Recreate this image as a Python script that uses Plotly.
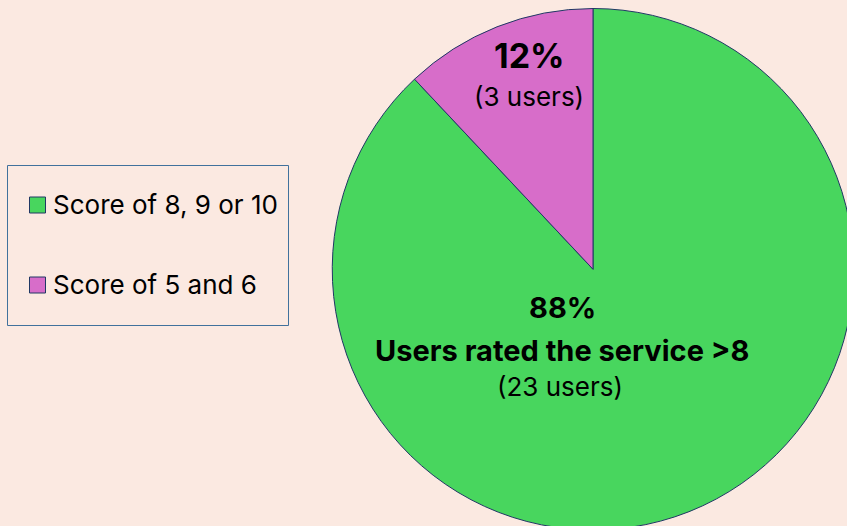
import plotly.graph_objects as go

# ---- data ----
labels = ["Score of 8, 9 or 10", "Score of 5 and 6"]
percent = [88, 12]
users = [23, 3]
colors = ["#48D65E", "#D76DC9"]
slice_captions = ["Users rated the service >8", ""]

W, H = 854, 530
BG = "#FBE9E1"
EDGE = "#203864"
FONT = "Inter, Liberation Sans, Arial, sans-serif"


def px(x):
    return x / W


def py(y):
    return 1 - y / H


fig = go.Figure()
fig.add_trace(go.Pie(
    labels=labels,
    values=percent,
    customdata=users,
    sort=False,
    direction="clockwise",
    rotation=0,
    marker=dict(colors=colors, line=dict(color=EDGE, width=1)),
    textinfo="none",
    hovertemplate="%{label}: %{value}% (%{customdata} users)<extra></extra>",
    showlegend=False,
    domain=dict(x=[332 / W, 1], y=[0, 1 - 8.5 / H]),
))

annotations = []
# big slice labels
annotations.append(dict(x=px(562), y=py(307), text=f"<b>{percent[0]}%</b>", font=dict(size=29)))
annotations.append(dict(x=px(561.5), y=py(350), text=f"<b>{slice_captions[0]}</b>", font=dict(size=29)))
annotations.append(dict(x=px(560), y=py(386), text=f"({users[0]} users)", font=dict(size=26)))
# small slice labels
annotations.append(dict(x=px(529), y=py(56), text=f"<b>{percent[1]}%</b>", font=dict(size=34)))
annotations.append(dict(x=px(528.5), y=py(97), text=f"({users[1]} users)", font=dict(size=26)))

for a in annotations:
    a.update(xref="paper", yref="paper", xanchor="center", yanchor="middle", showarrow=False)
    a["font"].update(color="#000000", family=FONT)

# manual legend
shapes = [dict(type="rect", xref="paper", yref="paper",
               x0=px(7.5), x1=px(288.5), y0=py(165.5), y1=py(325.5),
               line=dict(color="#41719C", width=1), fillcolor="rgba(0,0,0,0)")]
leg_y = [205, 285]
for lab, col, yc in zip(labels, colors, leg_y):
    shapes.append(dict(type="rect", xref="paper", yref="paper",
                       x0=px(29.5), x1=px(45.5), y0=py(yc - 8), y1=py(yc + 8),
                       line=dict(color=EDGE, width=1), fillcolor=col))
    annotations.append(dict(x=px(51), y=py(yc - 1), text=lab, xref="paper", yref="paper",
                            xanchor="left", yanchor="middle", showarrow=False,
                            font=dict(size=26, color="#000000", family=FONT)))

fig.update_layout(
    width=W, height=H,
    margin=dict(l=0, r=0, t=0, b=0),
    paper_bgcolor=BG, plot_bgcolor=BG,
    annotations=annotations,
    shapes=shapes,
    showlegend=False,
)

fig.write_html(
    "out.html",
    config={"displayModeBar": False},
    post_script="document.body.style.margin='0';document.body.style.overflow='hidden';"
                "document.documentElement.style.overflow='hidden';document.body.style.background='" + BG + "';",
)
